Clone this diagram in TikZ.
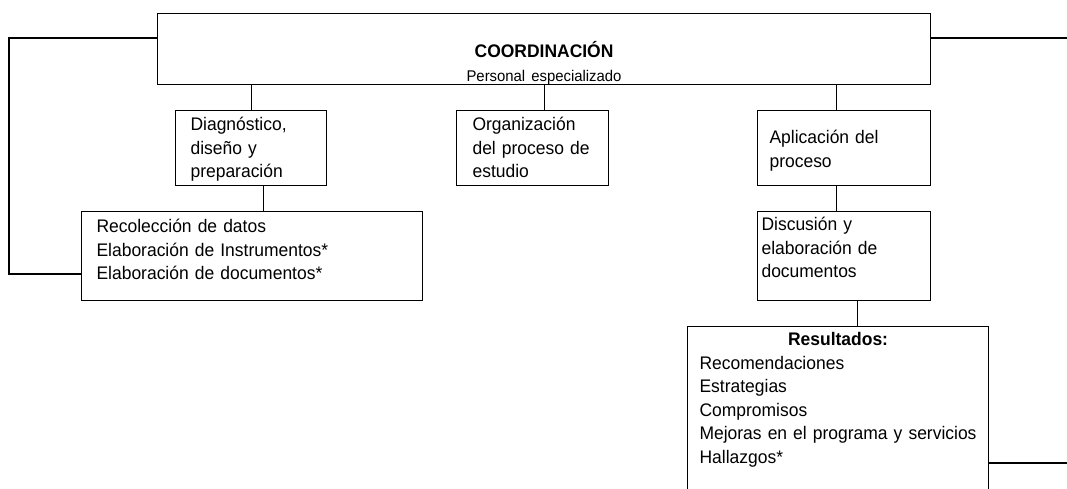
\documentclass[tikz,border=0pt]{standalone}
\usepackage{fontspec}
\setmainfont{Liberation Sans}[FakeStretch=0.96]
\tikzset{box/.style={draw, anchor=north west, align=left, inner ysep=0pt, font=\fontsize{18.2}{23.5}\selectfont}}

\begin{document}
\begin{tikzpicture}[x=1pt,y=-1pt,line width=1.1pt]
\useasboundingbox (0,0) rectangle (1067,489);
\clip (0,0) rectangle (1067,489);
\node[box, align=center, inner xsep=0pt, text width=773pt, text height=44pt, text depth=27pt] (coord) at (157,13)
    {\textbf{COORDINACIÓN}\\{\fontsize{15.5}{23}\selectfont Personal especializado}};
\node[box, inner xsep=15pt, text width=121pt, text height=20pt, text depth=55pt] (diag) at (175,110)
    {Diagnóstico,\\diseño y\\preparación};
\node[box, inner xsep=16pt, text width=120pt, text height=20pt, text depth=55pt] (org) at (456,110)
    {Organización\\del proceso de\\estudio};
\node[box, inner xsep=12pt, text width=149pt, text height=33pt, text depth=42pt] (apl) at (757,110)
    {Aplicación del\\proceso};
\node[box, inner xsep=15pt, text width=311pt, text height=21pt, text depth=68pt] (recol) at (81,211)
    {Recolección de datos\\Elaboración de Instrumentos*\\Elaboración de documentos*};
\node[box, inner xsep=4pt, text width=165pt, text height=19pt, text depth=70pt] (disc) at (757,211)
    {Discusión y\\elaboración de\\documentos};
\node[box, inner xsep=12pt, text width=277pt, text height=19pt, text depth=200pt] (res) at (687,326)
    {\makebox[\linewidth]{\textbf{Resultados:}}\\Recomendaciones\\Estrategias\\Compromisos\\Mejoras en el programa y servicios\\Hallazgos*};

\coordinate (lcorner) at (9,38);
\coordinate (rtop) at (1067,38);
\coordinate (rbot) at (1067,463);

\draw ([yshift=-25pt]coord.north west) -- (lcorner) |- ([yshift=-63pt]recol.north west);
\draw ([yshift=-25pt]coord.north east) -- (rtop);
\draw (diag.north) -- (diag.north |- coord.south);
\draw (coord.south) -- (coord.south |- org.north);
\draw ([xshift=-7.5pt]apl.north) -- ([xshift=-7.5pt]apl.north |- coord.south);
\draw ([xshift=12pt]diag.south) -- ([xshift=12pt]diag.south |- recol.north);
\draw ([xshift=-7.5pt]apl.south) -- ([xshift=-7.5pt]apl.south |- disc.north);
\draw ([xshift=13pt]disc.south) -- ([xshift=13pt]disc.south |- res.north);
\draw (res.east |- rbot) -- (rbot);
\end{tikzpicture}
\end{document}
